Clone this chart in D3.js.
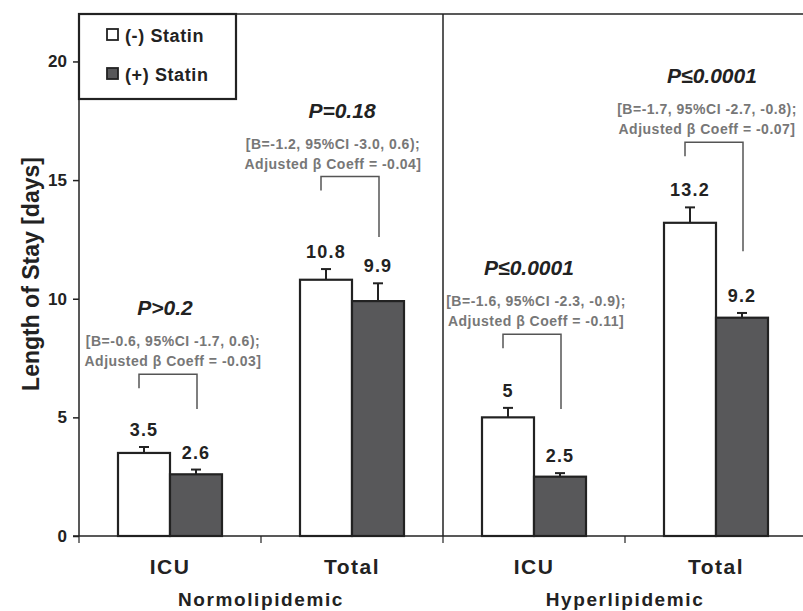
<!DOCTYPE html>
<html>
<head>
<meta charset="utf-8">
<script src="https://cdn.jsdelivr.net/npm/d3@7"></script>
<style>
  body { margin: 0; background: #fff; }
  svg { font-family: "Liberation Sans", Arial, sans-serif; font-weight: bold; }
</style>
</head>
<body>
<svg id="chart" width="803" height="611"></svg>
<script>
// chart data
const groups = ['Normolipidemic', 'Hyperlipidemic'];
const measures = ['ICU', 'Total'];
const seriesNames = ['(-) Statin', '(+) Statin'];
const noStatin = [3.5, 10.8, 5, 13.2];
const withStatin = [2.6, 9.9, 2.5, 9.2];
const noStatinErr = [0.25, 0.45, 0.4, 0.65];
const withStatinErr = [0.2, 0.75, 0.15, 0.2];
const pLabels = ['P>0.2', 'P=0.18', 'P\u22640.0001', 'P\u22640.0001'];
const ciLabels = ['[B=-0.6, 95%CI -1.7, 0.6);', '[B=-1.2, 95%CI -3.0, 0.6);', '[B=-1.6, 95%CI -2.3, -0.9);', '[B=-1.7, 95%CI -2.7, -0.8);'];
const betaLabels = ['Adjusted \u03b2 Coeff = -0.03]', 'Adjusted \u03b2 Coeff = -0.04]', 'Adjusted \u03b2 Coeff = -0.11]', 'Adjusted \u03b2 Coeff = -0.07]'];
const yTicks = [0, 5, 10, 15, 20];

// annotation layout (in axis units / pixel nudges)
const bracketTop = [6.82, 15.15, 8.5, 16.6];
const bracketRightEnd = [5.35, 12.6, 5.35, 12.0];
const noteDx = [3, -19, 2, -9];
const pDx = [-5, -10, -5, -4];

const svg = d3.select('#chart');
const mLeft = 79, mTop = 14, mBottom = 536, mRight = 807;
const ink = '#222';
const gray = '#58585a';

const cats = d3.range(groups.length * measures.length);
const x = d3.scaleBand().domain(cats).range([mLeft, mRight]).padding(0);
const xs = d3.scaleBand().domain(seriesNames).range([0, x.bandwidth()]).paddingInner(0).paddingOuter(0.75);
const y = d3.scaleLinear().domain([0, 22]).range([mBottom, mTop]);

const rows = cats.map(i => ({
  i,
  measure: measures[i % measures.length],
  bars: [
    { s: seriesNames[0], v: noStatin[i], e: noStatinErr[i], fill: '#fff' },
    { s: seriesNames[1], v: withStatin[i], e: withStatinErr[i], fill: gray }
  ]
}));

// frame: top line + y axis
svg.append('line').attr('x1', mLeft).attr('x2', 803).attr('y1', mTop).attr('y2', mTop)
  .attr('stroke', ink).attr('stroke-width', 1.5);

const yAxis = svg.append('g').attr('transform', `translate(${mLeft},0)`)
  .call(d3.axisLeft(y).tickValues(yTicks).tickSize(6).tickPadding(6));
yAxis.select('.domain').attr('d', `M0,${mTop}V${mBottom}`).attr('stroke', ink).attr('stroke-width', 1.5);
yAxis.selectAll('.tick line').attr('stroke', ink).attr('stroke-width', 1.5);
yAxis.selectAll('.tick text').attr('fill', ink).attr('font-size', 17).attr('font-family', null)
  .attr('font-weight', 'bold');

// group divider
svg.append('line').attr('x1', x(2)).attr('x2', x(2)).attr('y1', mTop).attr('y2', mBottom)
  .attr('stroke', ink).attr('stroke-width', 1.5);

// bars
const cat = svg.selectAll('g.cat').data(rows).enter().append('g')
  .attr('class', 'cat').attr('transform', d => `translate(${x(d.i)},0)`);

cat.selectAll('rect').data(d => d.bars).enter().append('rect')
  .attr('x', b => xs(b.s))
  .attr('width', xs.bandwidth())
  .attr('y', b => y(b.v))
  .attr('height', b => y(0) - y(b.v))
  .attr('fill', b => b.fill)
  .attr('stroke', ink).attr('stroke-width', 2.2);

// error bars (upper only)
const err = cat.selectAll('g.err').data(d => d.bars).enter().append('g').attr('class', 'err');
err.append('line')
  .attr('x1', b => xs(b.s) + xs.bandwidth() / 2).attr('x2', b => xs(b.s) + xs.bandwidth() / 2)
  .attr('y1', b => y(b.v)).attr('y2', b => y(b.v + b.e))
  .attr('stroke', ink).attr('stroke-width', 2);
err.append('line')
  .attr('x1', b => xs(b.s) + xs.bandwidth() / 2 - 5).attr('x2', b => xs(b.s) + xs.bandwidth() / 2 + 5)
  .attr('y1', b => y(b.v + b.e)).attr('y2', b => y(b.v + b.e))
  .attr('stroke', ink).attr('stroke-width', 2);

// value labels
cat.selectAll('text.val').data(d => d.bars).enter().append('text')
  .attr('class', 'val')
  .attr('x', b => xs(b.s) + xs.bandwidth() / 2)
  .attr('y', b => y(b.v + b.e) - 11)
  .attr('text-anchor', 'middle')
  .attr('font-size', 18).attr('letter-spacing', 1.2).attr('fill', ink)
  .text(b => String(b.v));

// x axis
svg.append('line').attr('x1', mLeft - 6).attr('x2', 803).attr('y1', mBottom).attr('y2', mBottom)
  .attr('stroke', ink).attr('stroke-width', 1.5);
svg.selectAll('line.xtick').data(cats).enter().append('line')
  .attr('class', 'xtick')
  .attr('x1', i => x(i)).attr('x2', i => x(i))
  .attr('y1', mBottom).attr('y2', mBottom + 7)
  .attr('stroke', ink).attr('stroke-width', 1.2);

svg.selectAll('text.cat').data(rows).enter().append('text')
  .attr('class', 'cat')
  .attr('x', d => x(d.i) + x.bandwidth() / 2)
  .attr('y', mBottom + 38)
  .attr('text-anchor', 'middle')
  .attr('font-size', 21).attr('letter-spacing', 1.5).attr('fill', ink)
  .text(d => d.measure);

svg.selectAll('text.grp').data(groups).enter().append('text')
  .attr('class', 'grp')
  .attr('x', (g, gi) => x(gi * measures.length) + x.bandwidth())
  .attr('y', 606)
  .attr('text-anchor', 'middle')
  .attr('font-size', 19).attr('letter-spacing', 1.6).attr('fill', ink)
  .text(g => g);

// y title
svg.append('text')
  .attr('transform', `translate(39,${(mTop + mBottom) / 2 - 1}) rotate(-90)`)
  .attr('text-anchor', 'middle')
  .attr('font-size', 23).attr('fill', ink)
  .text('Length of Stay [days]');

// significance annotations
const ann = svg.selectAll('g.ann').data(rows).enter().append('g').attr('class', 'ann')
  .attr('transform', d => `translate(${x(d.i)},0)`);

ann.append('path')
  .attr('d', d => {
    const xl = xs(seriesNames[0]) + xs.bandwidth() / 2 - 5;
    const xr = xs(seriesNames[1]) + xs.bandwidth() / 2 + 1;
    const yt = y(bracketTop[d.i]);
    return `M${xl},${yt + 14}V${yt}H${xr}V${y(bracketRightEnd[d.i])}`;
  })
  .attr('fill', 'none').attr('stroke', '#555').attr('stroke-width', 1.5);

ann.append('text')
  .attr('x', d => x.bandwidth() / 2 + pDx[d.i])
  .attr('y', d => y(bracketTop[d.i]) - 59)
  .attr('text-anchor', 'middle')
  .attr('font-size', 21).attr('font-style', 'italic').attr('fill', ink)
  .text(d => pLabels[d.i]);

ann.append('text')
  .attr('x', d => x.bandwidth() / 2 + noteDx[d.i])
  .attr('y', d => y(bracketTop[d.i]) - 28)
  .attr('text-anchor', 'middle')
  .attr('font-size', 14).attr('letter-spacing', 0.5).attr('fill', '#777')
  .text(d => ciLabels[d.i]);

ann.append('text')
  .attr('x', d => x.bandwidth() / 2 + noteDx[d.i])
  .attr('y', d => y(bracketTop[d.i]) - 8)
  .attr('text-anchor', 'middle')
  .attr('font-size', 14).attr('letter-spacing', 0.5).attr('fill', '#777')
  .text(d => betaLabels[d.i]);

// legend
const lg = svg.append('g');
lg.append('rect').attr('x', mLeft).attr('y', mTop).attr('width', 157).attr('height', 85)
  .attr('fill', '#fff').attr('stroke', ink).attr('stroke-width', 2.2);
const li = lg.selectAll('g.li').data(seriesNames).enter().append('g')
  .attr('transform', (s, i) => `translate(107,${29 + i * 39})`);
li.append('rect').attr('width', 11).attr('height', 11)
  .attr('fill', (s, i) => i ? gray : '#fff').attr('stroke', ink).attr('stroke-width', 1.8);
li.append('text').attr('x', 18).attr('y', 13)
  .attr('font-size', 18).attr('letter-spacing', 0.6).attr('fill', ink)
  .text(s => s);
</script>
</body>
</html>
